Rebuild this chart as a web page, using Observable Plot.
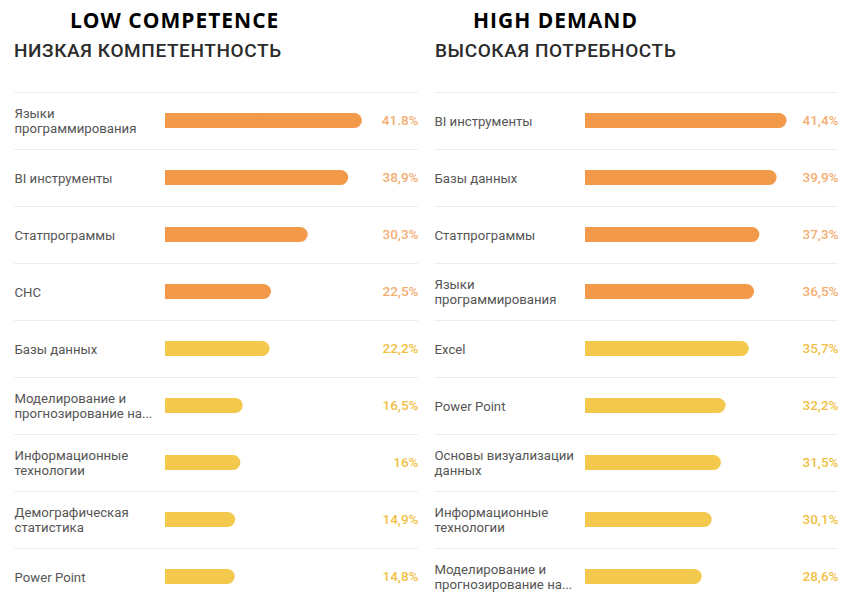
<!DOCTYPE html>
<html>
<head>
<meta charset="utf-8">
<script src="https://cdn.jsdelivr.net/npm/d3@7"></script>
<script src="https://cdn.jsdelivr.net/npm/@observablehq/plot@0.6"></script>
<style>
  html, body { margin: 0; padding: 0; background: #fff; }
  #wrap { position: relative; width: 841px; height: 605px; overflow: hidden; background: #fff; }
  .panel { position: absolute; top: 0; height: 605px; }
  .en { position: absolute; top: 10px; font-family: "Open Sans", sans-serif; font-weight: 700; font-size: 21px; letter-spacing: 1px; color: #000; white-space: nowrap; line-height: 1; }
  .ru { position: absolute; top: 41px; font-family: Roboto, sans-serif; font-weight: 500; font-size: 19px; letter-spacing: 0.6px; color: #2b2b2b; white-space: nowrap; line-height: 1; }
  .chart { position: absolute; left: 0; top: 90px; }
</style>
</head>
<body>
<div id="wrap">
  <div class="panel" id="left" style="left:0;width:420px;">
    <div class="en" id="enL" style="left:70px;"></div>
    <div class="ru" id="ruL" style="left:14px;"></div>
    <div class="chart" id="chartL"></div>
  </div>
  <div class="panel" id="right" style="left:420px;width:421px;">
    <div class="en" id="enR" style="left:53px;"></div>
    <div class="ru" id="ruR" style="left:15px;"></div>
    <div class="chart" id="chartR"></div>
  </div>
</div>
<script>
// ---- Data ----
const titlesEn = ["LOW COMPETENCE", "HIGH DEMAND"];
const titlesRu = ["НИЗКАЯ КОМПЕТЕНТНОСТЬ", "ВЫСОКАЯ ПОТРЕБНОСТЬ"];

const leftCategories = [
  "Языки\nпрограммирования",
  "BI инструменты",
  "Статпрограммы",
  "СНС",
  "Базы данных",
  "Моделирование и\nпрогнозирование на...",
  "Информационные\nтехнологии",
  "Демографическая\nстатистика",
  "Power Point"
];
const leftValues = [41.8, 38.9, 30.3, 22.5, 22.2, 16.5, 16, 14.9, 14.8];
const leftValueLabels = ["41.8%", "38,9%", "30,3%", "22,5%", "22,2%", "16,5%", "16%", "14,9%", "14,8%"];
const leftGroups = ["top", "top", "top", "top", "rest", "rest", "rest", "rest", "rest"];

const rightCategories = [
  "BI инструменты",
  "Базы данных",
  "Статпрограммы",
  "Языки\nпрограммирования",
  "Excel",
  "Power Point",
  "Основы визуализации\nданных",
  "Информационные\nтехнологии",
  "Моделирование и\nпрогнозирование на..."
];
const rightValues = [41.4, 39.9, 37.3, 36.5, 35.7, 32.2, 31.5, 30.1, 28.6];
const rightValueLabels = ["41,4%", "39,9%", "37,3%", "36,5%", "35,7%", "32,2%", "31,5%", "30,1%", "28,6%"];
const rightGroups = ["top", "top", "top", "top", "rest", "rest", "rest", "rest", "rest"];

// ---- Styling ----
const barColors = {top: "#F2994A", rest: "#F2C94C"};
const labelColors = {top: "#F3AE73", rest: "#F1BF45"};

function panel(cats, vals, lbls, groups, opts) {
  const data = cats.map((c, i) => ({cat: c, v: vals[i], lbl: lbls[i], g: groups[i]}));
  const W = opts.width, H = 515, mT = 2;
  const x0 = opts.domain[0];
  const mL = 165, mR = opts.marginRight;
  const labelX = 14, valueRight = 418;
  return Plot.plot({
    width: W, height: H,
    marginLeft: mL, marginRight: mR, marginTop: mT, marginBottom: 0,
    style: {fontFamily: "Roboto, sans-serif", background: "transparent"},
    x: {domain: opts.domain, axis: null},
    y: {domain: cats, axis: null, padding: 0},
    marks: [
      Plot.ruleY(cats, {y: d => d, dy: -28.5, stroke: "#ededed", strokeWidth: 1,
        insetLeft: -(mL - labelX), insetRight: -(valueRight - (W - mR))}),
      Plot.barX(data, {x1: x0, x2: "v", y: "cat", fill: d => barColors[d.g],
        insetTop: 21, insetBottom: 21, rx: 7.5}),
      Plot.barX(data, {x1: x0, x2: d => (x0 + d.v) / 2, y: "cat", fill: d => barColors[d.g],
        insetTop: 21, insetBottom: 21}),
      Plot.text(data, {y: "cat", text: "cat", frameAnchor: "left", textAnchor: "start",
        dx: -(mL - labelX), fontSize: 13.2, fill: "#555", lineHeight: 1.12}),
      Plot.text(data, {y: "cat", text: "lbl", frameAnchor: "right", textAnchor: "end",
        dx: valueRight - (W - mR), fontSize: 13.5, fontWeight: 500, fill: d => labelColors[d.g]})
    ]
  });
}

document.getElementById("enL").textContent = titlesEn[0];
document.getElementById("enR").textContent = titlesEn[1];
document.getElementById("ruL").textContent = titlesRu[0];
document.getElementById("ruR").textContent = titlesRu[1];

document.getElementById("chartL").append(
  panel(leftCategories, leftValues, leftValueLabels, leftGroups, {width: 420, domain: [0, 44], marginRight: 47.8})
);
document.getElementById("chartR").append(
  panel(rightCategories, rightValues, rightValueLabels, rightGroups, {width: 421, domain: [11, 44], marginRight: 37.2})
);
</script>
</body>
</html>
